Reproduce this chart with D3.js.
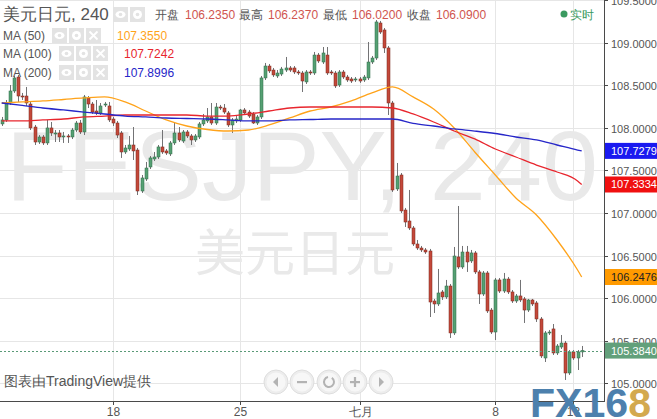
<!DOCTYPE html>
<html><head><meta charset="utf-8">
<script src="https://cdn.jsdelivr.net/npm/d3@7"></script>
<style>body{margin:0;background:#fff;overflow:hidden}svg{display:block;font-family:"Liberation Sans",Arial,sans-serif}</style>
</head><body><svg id="c" width="657" height="419"></svg>
<script>
// ---- data ----
const candleOpen = [
108.044,108.091,108.290,108.431,108.595,108.372,108.372,108.278,108.008,107.832,
107.891,107.821,107.997,107.926,107.938,107.891,107.903,107.891,107.973,108.055,
107.950,108.349,108.278,108.196,108.173,108.267,108.255,108.102,108.055,107.938,
107.715,107.750,107.797,107.738,107.257,107.398,107.539,107.633,107.656,107.774,
107.727,107.692,107.821,107.938,107.844,107.950,107.903,107.856,107.891,108.044,
108.079,108.126,108.055,108.243,108.231,108.173,108.032,108.079,108.091,108.208,
108.184,108.161,108.055,108.126,108.584,108.724,108.677,108.607,108.630,108.677,
108.701,108.701,108.654,108.642,108.537,108.654,108.642,108.853,108.771,108.853,
108.654,108.642,108.501,108.654,108.595,108.572,108.560,108.572,108.560,108.584,
108.771,108.818,109.229,109.147,108.936,108.290,107.281,107.445,107.034,106.905,
106.823,106.635,106.588,106.565,106.553,105.966,105.931,106.072,106.013,106.142,
105.591,106.483,106.365,106.541,106.436,106.530,106.307,106.048,106.295,105.860,
105.602,106.213,106.083,106.224,106.072,105.966,106.025,105.990,105.860,105.978,
105.943,105.755,105.297,105.591,105.638,105.356,105.426,105.473,105.121,105.368,
105.297,105.368];
const candleHigh = [
108.126,108.325,108.501,108.607,108.619,108.408,108.478,108.302,108.032,107.914,
107.914,108.091,108.067,107.973,107.973,107.950,107.926,107.997,108.079,108.091,
108.384,108.372,108.302,108.325,108.290,108.302,108.302,108.126,108.079,107.961,
107.797,107.903,108.008,107.762,107.445,107.598,107.668,107.715,107.797,107.973,
107.750,107.844,108.055,108.008,107.973,107.973,107.926,107.926,108.067,108.161,
108.231,108.290,108.290,108.267,108.278,108.196,108.114,108.137,108.220,108.231,
108.208,108.184,108.149,108.607,108.760,108.748,108.701,108.677,108.713,108.830,
108.724,108.724,108.677,108.666,108.677,108.677,108.889,108.877,108.947,108.947,
108.677,108.666,108.677,108.677,108.619,108.595,108.595,108.595,108.619,109.006,
108.842,109.264,109.253,109.170,108.959,108.314,107.586,107.468,107.058,107.269,
106.846,106.682,106.612,106.588,106.577,105.990,106.342,106.095,106.213,106.166,
106.600,107.081,106.612,106.612,106.565,106.553,106.330,106.318,106.318,105.884,
106.236,106.236,106.295,106.248,106.095,106.048,106.213,106.013,105.990,105.990,
105.966,105.778,105.614,105.626,105.696,105.461,105.567,105.497,105.391,105.391,
105.391,105.438];
const candleLow = [
108.020,108.067,108.267,108.408,108.302,108.325,108.255,107.973,107.797,107.809,
107.797,107.797,107.903,107.832,107.832,107.821,107.821,107.867,107.950,107.926,
107.914,108.231,108.161,108.149,108.149,108.243,108.067,108.020,107.879,107.645,
107.692,107.727,107.621,107.210,107.234,107.375,107.515,107.609,107.633,107.692,
107.680,107.668,107.797,107.832,107.821,107.879,107.797,107.832,107.867,108.020,
108.055,108.032,108.032,108.208,108.161,108.008,107.938,108.055,108.067,108.149,
108.114,108.044,108.032,108.102,108.560,108.642,108.595,108.584,108.607,108.654,
108.654,108.630,108.619,108.419,108.513,108.619,108.619,108.760,108.748,108.619,
108.619,108.466,108.478,108.572,108.537,108.525,108.537,108.525,108.537,108.560,
108.748,108.795,109.100,108.877,108.149,107.246,107.257,106.999,106.835,106.799,
106.612,106.565,106.541,106.518,105.778,105.825,105.907,105.978,105.990,105.532,
105.567,106.342,106.342,106.307,106.412,106.283,105.931,106.025,105.825,105.579,
105.508,106.060,106.060,106.048,105.943,105.943,105.954,105.708,105.837,105.907,
105.720,105.297,105.250,105.567,105.332,105.332,105.403,105.039,105.098,105.274,
105.156,105.309];
const candleClose = [
108.091,108.290,108.431,108.584,108.372,108.361,108.290,107.997,107.832,107.891,
107.821,107.997,107.938,107.938,107.891,107.903,107.891,107.973,108.055,107.950,
108.361,108.278,108.184,108.173,108.255,108.278,108.091,108.055,107.914,107.715,
107.762,107.797,107.727,107.257,107.410,107.527,107.645,107.656,107.774,107.715,
107.703,107.821,107.938,107.856,107.950,107.903,107.856,107.903,108.044,108.091,
108.126,108.055,108.243,108.231,108.184,108.032,108.091,108.102,108.208,108.173,
108.137,108.055,108.126,108.584,108.724,108.666,108.619,108.642,108.689,108.701,
108.677,108.654,108.642,108.548,108.654,108.642,108.853,108.783,108.877,108.642,
108.642,108.490,108.654,108.595,108.560,108.548,108.572,108.548,108.595,108.771,
108.818,109.241,109.123,108.936,108.290,107.269,107.433,107.023,106.893,106.823,
106.635,106.588,106.565,106.541,105.954,105.931,106.060,106.013,106.142,105.591,
106.494,106.365,106.541,106.424,106.530,106.307,106.048,106.295,105.849,105.602,
106.213,106.083,106.224,106.072,105.966,106.025,105.978,105.860,105.978,105.931,
105.755,105.321,105.591,105.602,105.356,105.438,105.473,105.121,105.368,105.297,
105.368,105.384];

// moving averages read at every 5th candle (plus the last one)
const maIndex = [0,5,10,15,20,25,30,35,40,45,50,55,60,65,70,75,80,85,90,95,100,105,110,115,120,125,130,135,140,141];
const ma50 = [108.290,108.302,108.314,108.331,108.349,108.361,108.302,108.196,108.091,108.020,107.979,107.961,107.973,108.032,108.114,108.196,108.243,108.314,108.408,108.478,108.361,108.220,107.997,107.715,107.445,107.175,106.976,106.682,106.330,106.248];
const ma100 = [108.079,108.079,108.091,108.102,108.126,108.137,108.149,108.149,108.149,108.149,108.137,108.137,108.161,108.196,108.231,108.243,108.243,108.243,108.243,108.231,108.161,108.067,107.961,107.868,107.750,107.656,107.562,107.480,107.375,107.333];
const ma200 = [108.290,108.261,108.231,108.208,108.184,108.161,108.137,108.126,108.114,108.108,108.102,108.091,108.079,108.079,108.091,108.096,108.102,108.102,108.102,108.102,108.050,108.020,107.985,107.961,107.932,107.891,107.856,107.797,107.738,107.728];

const priceTicks = [105,105.5,106,106.5,107,107.5,108,108.5,109,109.5];
const dateTickIndex = [27,58,87,120,139];
const dateTickLabels = ["18","25","七月","8","13"];

const lastPrice = 105.3840;
const maLabelValues = [107.7279,107.3334,106.2476];
const headerLabels = ["开盘","最高","最低","收盘"];
const headerValues = ["106.2350","106.2370","106.0200","106.0900"];
const maNames = ["MA (50)","MA (100)","MA (200)"];
const maLegendValues = ["107.3550","107.7242","107.8996"];

// ---- layout ----
const plotR = 604, plotB = 401;
const svg = d3.select('#c');
const y = d3.scaleLinear().domain([105,109]).range([383.3,42.5]);
const x = d3.scaleLinear().domain([0,141]).range([1.7,581.7]);
const colUp = '#55a073', colDown = '#c4483a', wickCol = '#737375';
const maColors = ['#ffa31a','#e8262e','#2626c8'];

svg.append('rect').attr('width',657).attr('height',419).attr('fill','#fff');

// grid
const grid = svg.append('g').attr('stroke','#e6e6e6').attr('stroke-width',1);
priceTicks.forEach(p=>{
  const yy = Math.round(y(p))+0.5;
  grid.append('line').attr('x1',0).attr('x2',plotR).attr('y1',yy).attr('y2',yy);
});
dateTickIndex.forEach(i=>{
  const xx = Math.round(x(i))+0.5;
  grid.append('line').attr('x1',xx).attr('x2',xx).attr('y1',0).attr('y2',plotB);
});

// watermark
svg.append('text').text('FESJPY, 240').attr('x',6).attr('y',200)
  .attr('font-size',98).attr('fill','#e9e9e9').attr('textLength',592).attr('lengthAdjust','spacingAndGlyphs');
svg.append('text').text('美元日元').attr('x',295).attr('y',271).attr('text-anchor','middle')
  .attr('font-family','"Noto Sans CJK SC",sans-serif').attr('font-size',50).attr('fill','#e9e9e9');

// candles
const cg = svg.append('g');
candleOpen.forEach((o,i)=>{
  const c = candleClose[i], h = candleHigh[i], l = candleLow[i];
  const cx = Math.round(x(i));
  const up = c >= o;
  cg.append('line').attr('x1',cx+0.5).attr('x2',cx+0.5).attr('y1',y(h)).attr('y2',y(l))
    .attr('stroke',wickCol).attr('stroke-width',1);
  const top = y(Math.max(o,c)), bot = y(Math.min(o,c));
  cg.append('rect').attr('x',cx-1).attr('width',3).attr('y',top).attr('height',Math.max(1,bot-top))
    .attr('fill',up?colUp:colDown).attr('stroke',up?'#2f6b47':'#7a2a1f').attr('stroke-width',0.5);
});

// moving averages
const maLine = d3.line().x(d=>x(d[0])).y(d=>y(d[1])).curve(d3.curveMonotoneX);
[ma50,ma100,ma200].forEach((arr,k)=>{
  svg.append('path').datum(maIndex.map((ix,j)=>[ix,arr[j]])).attr('d',maLine)
    .attr('fill','none').attr('stroke',maColors[k]).attr('stroke-width',1.3);
});

// last price dashed line
const ly = Math.round(y(lastPrice))+0.5;
svg.append('line').attr('x1',0).attr('x2',plotR).attr('y1',ly).attr('y2',ly)
  .attr('stroke','#5a9a78').attr('stroke-dasharray','2,2').attr('stroke-width',1);

// axes
const axisG = svg.append('g');
axisG.append('line').attr('x1',plotR+0.5).attr('x2',plotR+0.5).attr('y1',0).attr('y2',plotB+1).attr('stroke','#4a4a4a');
axisG.append('line').attr('x1',0).attr('x2',plotR+1).attr('y1',plotB+0.5).attr('y2',plotB+0.5).attr('stroke','#4a4a4a');
priceTicks.forEach(p=>{
  const yy = Math.round(y(p))+0.5;
  axisG.append('line').attr('x1',plotR).attr('x2',plotR+4).attr('y1',yy).attr('y2',yy).attr('stroke','#4a4a4a');
  axisG.append('text').text(p.toFixed(4)).attr('x',611).attr('y',yy+4).attr('font-size',11).attr('fill','#555');
});
dateTickIndex.forEach((i,k)=>{
  const xx = Math.round(x(i))+0.5;
  axisG.append('line').attr('x1',xx).attr('x2',xx).attr('y1',plotB).attr('y2',plotB+4).attr('stroke','#4a4a4a');
  axisG.append('text').text(dateTickLabels[k]).attr('x',xx).attr('y',416).attr('text-anchor','middle')
    .attr('font-size',12).attr('fill','#555');
});

// axis value labels
function axisLabel(v,fill,tc){
  const yy = y(v);
  svg.append('rect').attr('x',plotR+1).attr('y',yy-8).attr('width',657-plotR).attr('height',16).attr('fill',fill);
  svg.append('text').text(v.toFixed(4)).attr('x',611).attr('y',yy+4).attr('font-size',11).attr('fill',tc);
}
axisLabel(maLabelValues[0],'#1a1af0','#fff');
axisLabel(maLabelValues[1],'#f01010','#fff');
axisLabel(maLabelValues[2],'#ff9a00','#222');
axisLabel(lastPrice,'#62a07b','#fff');

// header
function iconBox(bx,by,type){
  svg.append('rect').attr('x',bx).attr('y',by).attr('width',15).attr('height',15).attr('fill','#e3e3e3');
  const cx=bx+7.5, cy=by+7.5;
  if(type==='eye'){
    svg.append('ellipse').attr('cx',cx).attr('cy',cy).attr('rx',5).attr('ry',3.5).attr('fill','#fff');
    svg.append('circle').attr('cx',cx).attr('cy',cy).attr('r',1.8).attr('fill','#e3e3e3');
  } else if(type==='gear'){
    svg.append('circle').attr('cx',cx).attr('cy',cy).attr('r',4.5).attr('fill','#fff');
    svg.append('circle').attr('cx',cx).attr('cy',cy).attr('r',1.8).attr('fill','#e3e3e3');
  } else {
    svg.append('path').attr('d',`M${cx-4},${cy-4}L${cx+4},${cy+4}M${cx+4},${cy-4}L${cx-4},${cy+4}`)
      .attr('stroke','#fff').attr('stroke-width',1.8);
  }
}
svg.append('text').text('美元日元, 240').attr('x',3).attr('y',20).attr('font-size',17).attr('fill','#555');
iconBox(113,7,'eye'); iconBox(130,7,'gear');
const hx = [155,239,323,407], vx = [185,268,352,436];
headerLabels.forEach((t,k)=>{
  svg.append('text').text(t).attr('x',hx[k]).attr('y',19).attr('font-size',12).attr('fill','#555');
  svg.append('text').text(headerValues[k]).attr('x',vx[k]).attr('y',19).attr('font-size',12).attr('fill','#d0544e');
});
svg.append('circle').attr('cx',564).attr('cy',14).attr('r',3.5).attr('fill','#3a9a60');
svg.append('text').text('实时').attr('x',570).attr('y',19).attr('font-size',12).attr('fill','#3a9a60');

const legY = [40,58,77], legIconX=[[52,69,86],[59,76,93],[59,76,93]], legValX=[117,124,124];
maNames.forEach((n,k)=>{
  svg.append('text').text(n).attr('x',3).attr('y',legY[k]).attr('font-size',12).attr('fill','#555');
  iconBox(legIconX[k][0],legY[k]-12,'eye'); iconBox(legIconX[k][1],legY[k]-12,'gear'); iconBox(legIconX[k][2],legY[k]-12,'x');
  svg.append('text').text(maLegendValues[k]).attr('x',legValX[k]).attr('y',legY[k]).attr('font-size',12).attr('fill',maColors[k]);
});

// credit
svg.append('text').text('图表由TradingView提供').attr('x',4).attr('y',386).attr('font-size',14).attr('fill','#555');

// nav buttons
const navX = [276,302,329,355,381];
navX.forEach((bx,k)=>{
  svg.append('circle').attr('cx',bx).attr('cy',382).attr('r',12).attr('fill','#ededed').attr('stroke','#dedede');
  svg.append('circle').attr('cx',bx).attr('cy',382).attr('r',9.5).attr('fill','#f7f7f7');
  const g = svg.append('g').attr('fill','#b3b3b3');
  if(k===0) g.append('path').attr('d',`M${bx-3},382L${bx+2},377L${bx+2},387Z`);
  if(k===4) g.append('path').attr('d',`M${bx+3},382L${bx-2},377L${bx-2},387Z`);
  if(k===1) g.append('rect').attr('x',bx-5).attr('y',381).attr('width',10).attr('height',2.2);
  if(k===3){ g.append('rect').attr('x',bx-5).attr('y',381).attr('width',10).attr('height',2.2);
             g.append('rect').attr('x',bx-1.1).attr('y',377).attr('width',2.2).attr('height',10); }
  if(k===2) g.append('path').attr('d',d3.arc()({innerRadius:4,outerRadius:6,startAngle:0.6,endAngle:2*Math.PI-0.2})).attr('transform',`translate(${bx},382)`);
});

// logo
const logo = svg.append('text').attr('x',530).attr('y',417).attr('font-size',40).attr('font-weight','bold')
  .attr('textLength',121).attr('lengthAdjust','spacingAndGlyphs');
logo.append('tspan').text('FX16').attr('fill','#4d80ad');
logo.append('tspan').text('8').attr('fill','#d3a94e');
</script></body></html>
